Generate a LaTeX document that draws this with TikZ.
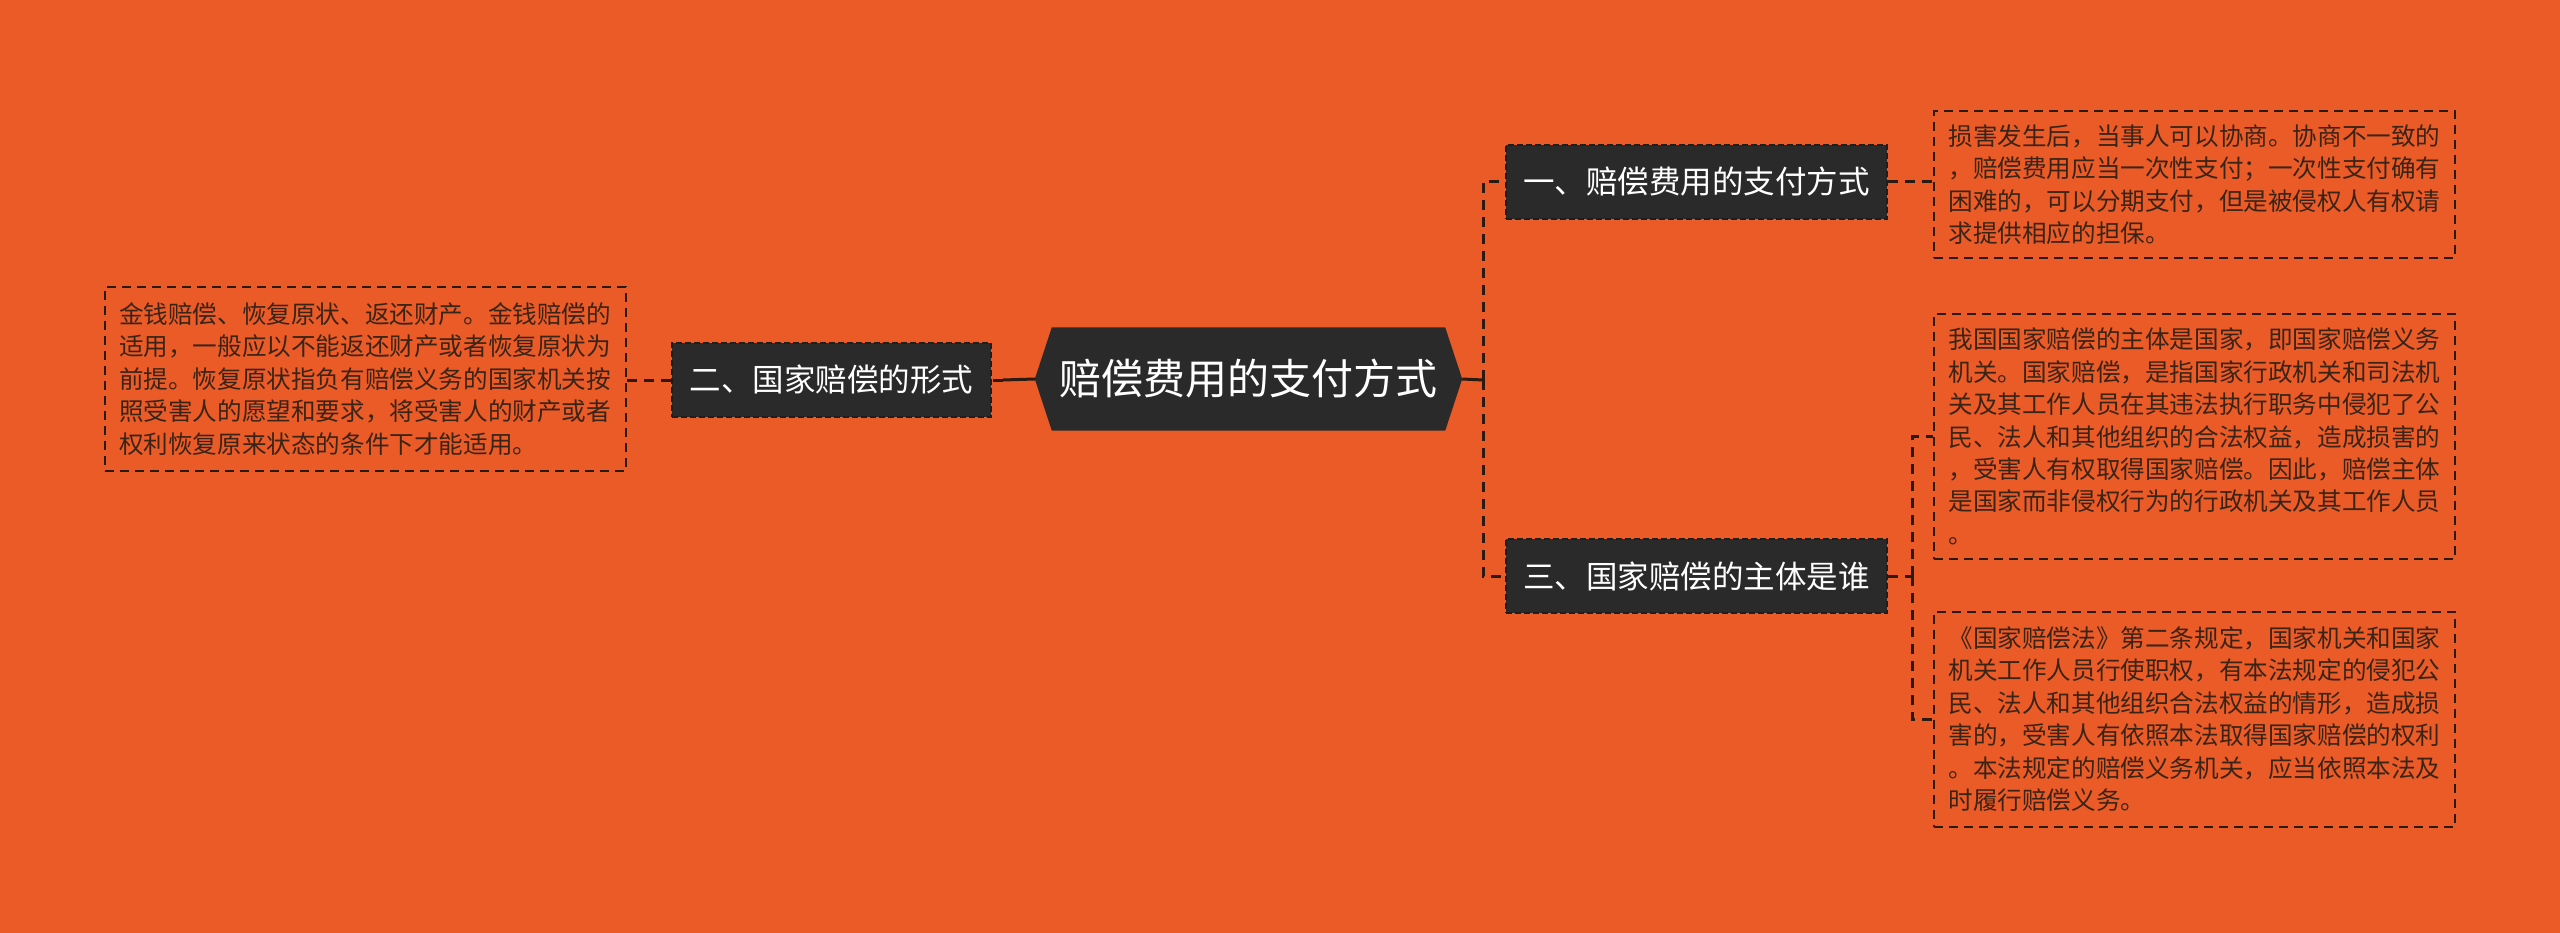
\documentclass[tikz,border=0pt]{standalone}
\usepackage{fontspec}
\setmainfont{Noto Sans CJK SC}
\usetikzlibrary{calc}
\pgfdeclarelayer{bglayer}
\pgfsetlayers{bglayer,main}
\definecolor{bgorange}{HTML}{EA5B27}
\definecolor{darkfill}{HTML}{2A2A2A}
\definecolor{darkline}{HTML}{1E1E1E}
\definecolor{boxtext}{HTML}{3A2418}
\definecolor{linecol}{HTML}{2A1A12}
\tikzset{
  titlebox/.style={draw=darkline, fill=darkfill, line width=2pt, dash pattern=on 6pt off 3pt,
    text=white, inner sep=0pt, minimum height=74pt,
    font=\fontsize{31.5pt}{36pt}\selectfont},
  centralbox/.style={inner sep=0pt, minimum width=427pt, minimum height=103pt, text=white,
    font=\fontsize{42pt}{48pt}\selectfont},
  textbox/.style={draw=linecol, line width=2pt, dash pattern=on 9pt off 6pt,
    text=boxtext, align=left, text width=492pt, inner xsep=14.5pt, inner ysep=0pt,
    font=\fontsize{24.6pt}{32.4pt}\selectfont},
  solidcon/.style={draw=linecol, line width=3pt},
  dashcon/.style={draw=linecol, line width=3pt, dash pattern=on 10pt off 7pt},
}
\begin{document}
\begin{tikzpicture}[x=1pt,y=-1pt]
\useasboundingbox (0,0) rectangle (2560,933);
\begin{pgfonlayer}{bglayer}
\fill[bgorange] (0,0) rectangle (2560,933);
\end{pgfonlayer}

% central node
\node[centralbox] (c) at (1248.5,379) {赔偿费用的支付方式};
\begin{pgfonlayer}{bglayer}
\fill[darkfill] ([xshift=17pt]c.north west) -- ([xshift=-17pt]c.north east) -- (c.east)
  -- ([xshift=-17pt]c.south east) -- ([xshift=17pt]c.south west) -- (c.west) -- cycle;
\end{pgfonlayer}

% branch nodes
\node[titlebox, minimum width=319pt] (n2) at (831.5,380) {二、国家赔偿的形式};
\node[titlebox, minimum width=381pt] (n1) at (1696.5,182) {一、赔偿费用的支付方式};
\node[titlebox, minimum width=381pt] (n3) at (1696.5,576) {三、国家赔偿的主体是谁};

% text boxes
\node[textbox, minimum height=147pt] (b1) at (2194.5,184.5) {损害发生后，当事人可以协商。协商不一致的\\，赔偿费用应当一次性支付；一次性支付确有\\困难的，可以分期支付，但是被侵权人有权请\\求提供相应的担保。};
\node[textbox, minimum height=245pt] (b2) at (2194.5,436.5) {我国国家赔偿的主体是国家，即国家赔偿义务\\机关。国家赔偿，是指国家行政机关和司法机\\关及其工作人员在其违法执行职务中侵犯了公\\民、法人和其他组织的合法权益，造成损害的\\，受害人有权取得国家赔偿。因此，赔偿主体\\是国家而非侵权行为的行政机关及其工作人员\\。};
\node[textbox, minimum height=215pt] (b3) at (2194.5,719) {《国家赔偿法》第二条规定，国家机关和国家\\机关工作人员行使职权，有本法规定的侵犯公\\民、法人和其他组织合法权益的情形，造成损\\害的，受害人有依照本法取得国家赔偿的权利\\。本法规定的赔偿义务机关，应当依照本法及\\时履行赔偿义务。};
\node[textbox, minimum height=184pt] (b4) at (365,379) {金钱赔偿、恢复原状、返还财产。金钱赔偿的\\适用，一般应以不能返还财产或者恢复原状为\\前提。恢复原状指负有赔偿义务的国家机关按\\照受害人的愿望和要求，将受害人的财产或者\\权利恢复原来状态的条件下才能适用。};

% connectors
\coordinate (jr) at (1483,380);
\coordinate (jl) at (1003,380);
\coordinate (jb) at (1912,576);
\draw[solidcon] (c.east) -- (jr);
\draw[dashcon] (jr) |- (n1.west);
\draw[dashcon] (jr) |- (n3.west);
\draw[solidcon] (c.west) -- (jl);
\draw[dashcon] (jl) -- (n2.east);
\draw[dashcon] (n2.west) -- (n2.west -| b4.east);
\draw[dashcon] (n1.east) -- (n1.east -| b1.west);
\draw[dashcon] (n3.east) -- (jb);
\draw[dashcon] (jb) |- (b2.west);
\draw[dashcon] (jb) |- (b3.west);
\end{tikzpicture}
\end{document}
